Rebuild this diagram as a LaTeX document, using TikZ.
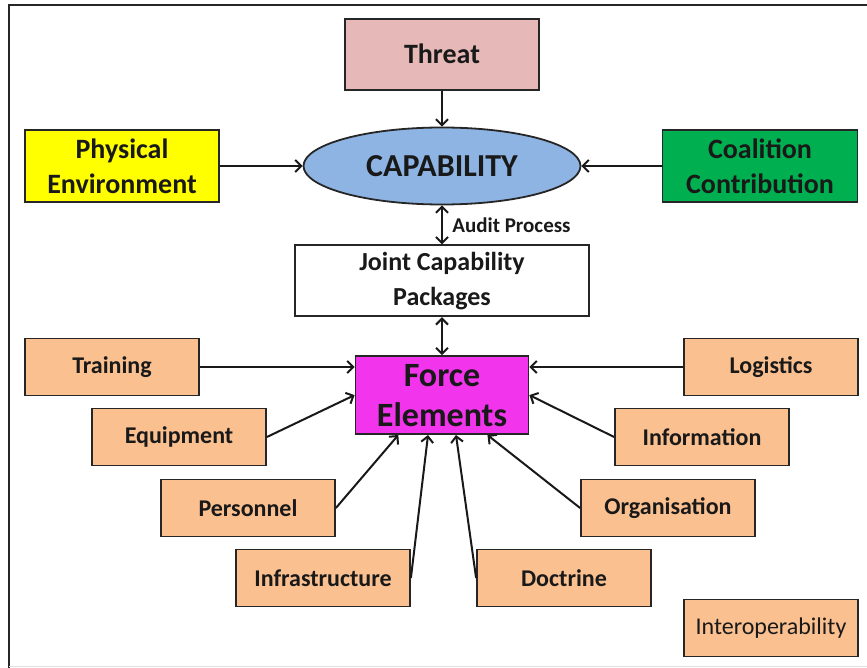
\documentclass[tikz,border=0pt]{standalone}
\usepackage{fontspec}
\setmainfont{Carlito}
\usetikzlibrary{positioning,calc,shapes.geometric,arrows.meta}

\definecolor{threatpink}{RGB}{230,184,183}
\definecolor{capblue}{RGB}{141,180,226}
\definecolor{envyellow}{RGB}{255,255,0}
\definecolor{coalgreen}{RGB}{0,176,80}
\definecolor{femagenta}{RGB}{242,52,236}
\definecolor{fepeach}{RGB}{250,192,144}

\tikzset{
	box/.style={draw=black!85,line width=1.8pt,inner sep=2pt,align=center,text=black!90,
		font=\fontsize{28}{35}\selectfont\bfseries},
	peach/.style={box,fill=fepeach,minimum width=174pt,minimum height=57pt,
		font=\fontsize{24}{28}\selectfont\bfseries},
	link/.style={line width=2pt,draw=black!90,-{Straight Barb[length=6pt,width=12pt]}},
	twoway/.style={link,{Straight Barb[length=6pt,width=12pt]}-{Straight Barb[length=6pt,width=12pt]}},
}

\begin{document}
\begin{tikzpicture}[x=1pt,y=-1pt]
		\useasboundingbox (0,0) rectangle (867,668);
		\draw[line width=2pt,black!85] (9,668) -- (9,5) -- (867,5);
		\draw[black!12] (9,666) -- (867,666);

		\node[box,ellipse,fill=capblue,minimum width=277pt,minimum height=77pt,inner sep=0pt,
			font=\fontsize{32}{36}\selectfont\bfseries] (cap) at (442,166) {CAPABILITY};
		\node[box,fill=threatpink,minimum width=194pt,minimum height=71pt,above=36pt of cap] (threat) {Threat};
		\node[box,fill=envyellow,minimum width=194pt,minimum height=72pt] (phys) at (122,166) {Physical\\Environment};
		\node[box,fill=coalgreen,minimum width=195pt,minimum height=72pt] (coal) at (760,166) {Coalition\\Contribution};
		\node[box,fill=white,minimum width=294pt,minimum height=71pt,below=39pt of cap,
			font=\fontsize{26}{35}\selectfont\bfseries] (jcp) {Joint Capability\\Packages};
		\node[box,fill=femagenta,minimum width=173pt,minimum height=78pt,below=38pt of jcp,
			font=\fontsize{34}{40}\selectfont\bfseries] (fe) {Force\\Elements};

		\node[peach] (train) at (112,367) {Training};
		\node[peach] (equip) at (179,437) {Equipment};
		\node[peach] (pers) at (248,508) {Personnel};
		\node[peach] (infra) at (323,578) {Infrastructure};
		\node[peach] (logi) at (771,367) {Logistics};
		\node[peach] (info) at (702,437) {Information};
		\node[peach] (organ) at (668,508) {Organisation};
		\node[peach] (doct) at (564,578) {Doctrine};
		\node[peach,font=\fontsize{24}{28}\selectfont] (interop) at (771,628) {Interoperability};

		\draw[link] (threat) -- (cap);
		\draw[link] (phys) -- (cap);
		\draw[link] (coal) -- (cap);
		\draw[twoway] (cap) -- node[right=6pt,font=\fontsize{21}{24}\selectfont\bfseries,text=black!90] {Audit Process} (jcp);
		\draw[twoway] (jcp) -- (fe);

		\draw[link] (train) -- (train -| fe.west);
		\draw[link] (equip.east) -- (fe.west);
		\draw[link] (pers.east) -- ($(fe.south west)!0.25!(fe.south east)$);
		\draw[link] (infra.east) -- ($(fe.south west)!0.42!(fe.south east)$);
		\draw[link] (logi) -- (logi -| fe.east);
		\draw[link] (info.west) -- (fe.east);
		\draw[link] (organ.west) -- ($(fe.south west)!0.76!(fe.south east)$);
		\draw[link] (doct.west) -- ($(fe.south west)!0.58!(fe.south east)$);
	\end{tikzpicture}
\end{document}
